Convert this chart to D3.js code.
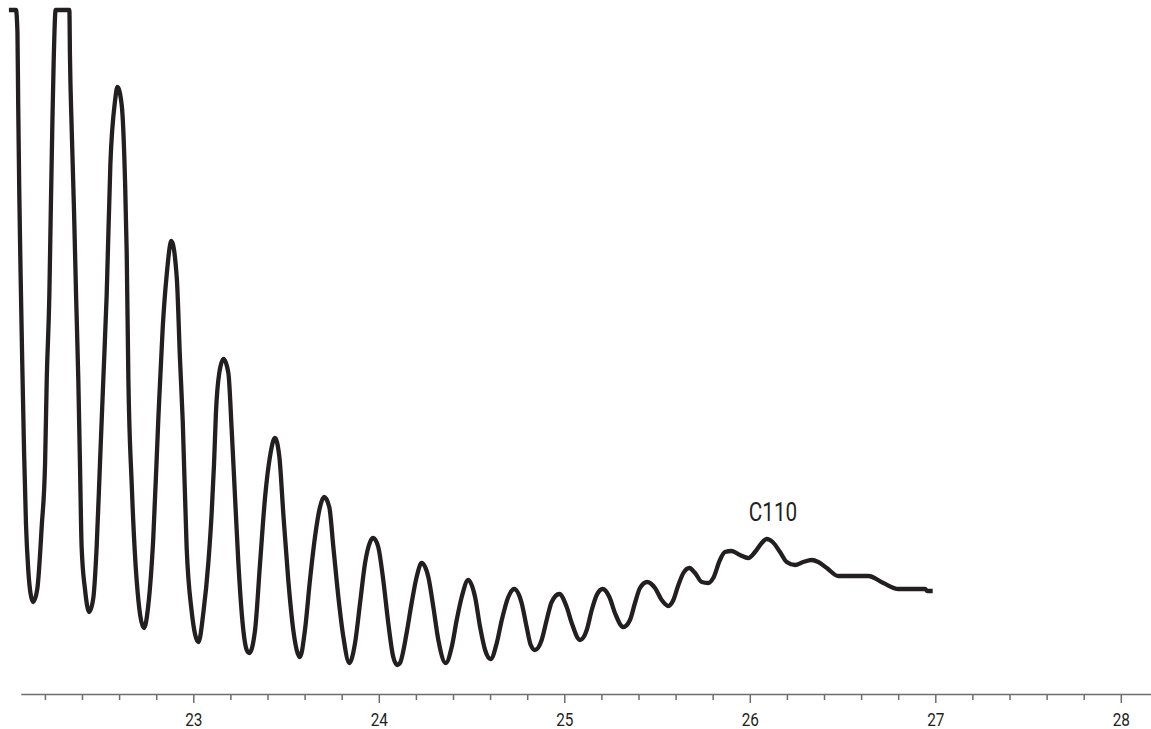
<!DOCTYPE html>
<html>
<head>
<meta charset="utf-8">
<script src="https://cdn.jsdelivr.net/npm/d3@7"></script>
<style>
  html, body { margin: 0; padding: 0; background: #ffffff; }
  svg { display: block; }
  .lbl { font-family: Roboto, "Liberation Sans", sans-serif; fill: #231f20; }
</style>
</head>
<body>
<svg id="chart" width="1151" height="729"></svg>
<script>
// Diffraction scan: 2θ (degrees) and detector intensity (a.u., saturated at 684)
const twoTheta = [
  22.006, 22.044, 22.052, 22.056, 22.062, 22.069, 22.078, 22.088, 22.098, 22.110,
  22.123, 22.137, 22.159, 22.183, 22.201, 22.210, 22.224, 22.231, 22.240, 22.247,
  22.258, 22.332, 22.335, 22.344, 22.357, 22.368, 22.380, 22.389, 22.398, 22.416,
  22.439, 22.461, 22.479, 22.497, 22.515, 22.533, 22.553, 22.578, 22.591, 22.614,
  22.632, 22.641, 22.650, 22.668, 22.695, 22.734, 22.757, 22.784, 22.811, 22.835,
  22.857, 22.882, 22.911, 22.928, 22.943, 22.964, 22.991, 23.028, 23.054, 23.081,
  23.099, 23.112, 23.122, 23.140, 23.163, 23.189, 23.207, 23.225, 23.243, 23.261,
  23.288, 23.302, 23.333, 23.360, 23.387, 23.413, 23.440, 23.464, 23.485, 23.512,
  23.539, 23.575, 23.602, 23.629, 23.656, 23.683, 23.705, 23.733, 23.755, 23.782,
  23.809, 23.841, 23.872, 23.899, 23.926, 23.953, 23.970, 23.997, 24.024, 24.051,
  24.078, 24.100, 24.114, 24.150, 24.177, 24.204, 24.231, 24.267, 24.294, 24.321,
  24.361, 24.393, 24.420, 24.447, 24.482, 24.519, 24.546, 24.573, 24.603, 24.636,
  24.663, 24.698, 24.730, 24.770, 24.797, 24.819, 24.842, 24.878, 24.905, 24.932,
  24.973, 25.013, 25.040, 25.085, 25.121, 25.148, 25.175, 25.207, 25.243, 25.273,
  25.318, 25.354, 25.381, 25.408, 25.447, 25.489, 25.525, 25.561, 25.588, 25.615,
  25.642, 25.674, 25.705, 25.741, 25.776, 25.803, 25.839, 25.866, 25.902, 25.947,
  25.992, 26.028, 26.064, 26.091, 26.123, 26.163, 26.199, 26.244, 26.288, 26.334,
  26.369, 26.415, 26.477, 26.639, 26.720, 26.801, 26.945, 26.957, 26.986
];
const intensity = [
  684, 684, 662, 590, 500, 420, 330, 240, 170, 125,
  100,  92, 105, 168, 231, 315, 399, 475, 568, 630,
  684, 684, 639, 568, 483, 399, 315, 231, 147, 105,
   82,  96, 147, 231, 315, 399, 530, 593, 607, 589,
  513, 441, 315, 210, 113,  66,  88, 155, 273, 366,
  420, 453, 416, 336, 273, 147,  83,  52,  81, 131,
  181, 231, 281, 321, 335, 321, 264, 197, 131,  81,
   44,  41,  64, 131, 197, 237, 256, 237, 181, 114,
   64,  37,  64, 114, 157, 187, 197, 187, 147,  97,
   57,  31,  51,  91, 131, 152, 156, 147, 114,  71,
   37,  29,  31,  61,  91, 117, 131, 117,  87,  54,
   31,  47,  74,  97, 114,  97,  67,  44,  35,  51,
   74,  97, 105,  91,  67,  49,  44,  54,  74,  92,
  100,  87,  71,  54,  64,  84,  99, 105,  97,  81,
   67,  74,  91, 106, 112, 106,  94,  88,  94, 109,
  121, 126, 121, 112, 111, 116, 134, 142, 143, 139,
  136, 142, 151, 155, 152, 142, 132, 129, 132, 134,
  132, 126, 118, 118, 111, 105, 105, 103, 103
];

// Axis ticks and labels
const majorTicks = [23, 24, 25, 26, 27, 28];
const majorTickLabels = ["23", "24", "25", "26", "27", "28"];
const minorTicks = [22.2, 22.4, 22.6, 22.8, 23.2, 23.4, 23.6, 23.8, 24.2, 24.4, 24.6, 24.8,
                    25.2, 25.4, 25.6, 25.8, 26.2, 26.4, 26.6, 26.8, 27.2, 27.4, 27.6, 27.8];
const axisStart = 22.07;
const axisEnd = 28.2;

// Peak annotation
const peakLabel = "C110";
const peakTheta = 26.125;
const peakIntensity = 155;

const svg = d3.select("#chart");

const x = d3.scaleLinear().domain([22, 28.2]).range([7.8, 1157.9]);
const y = d3.scaleLinear().domain([0, 684]).range([694, 10]);

const data = twoTheta.map((t, i) => ({ t, v: intensity[i] }));

// Scan trace
svg.append("path")
  .datum(data)
  .attr("fill", "none")
  .attr("stroke", "#231f20")
  .attr("stroke-width", 4.3)
  .attr("stroke-linejoin", "round")
  .attr("stroke-linecap", "butt")
  .attr("d", d3.line().x(d => x(d.t)).y(d => y(d.v)).curve(d3.curveMonotoneX));

// Bottom axis
const axisScale = x.copy().domain([axisStart, axisEnd]).range([x(axisStart), x(axisEnd)]);
const condensed = "scale(0.83,1)";

const major = svg.append("g")
  .attr("transform", `translate(0,${y(0)})`)
  .call(d3.axisBottom(axisScale)
    .tickValues(majorTicks)
    .tickSize(9)
    .tickSizeOuter(0)
    .tickFormat((d, i) => majorTickLabels[i]));

major.select(".domain").attr("stroke", "#6d6e71").attr("stroke-width", 1.5);
major.selectAll(".tick line").attr("stroke", "#6d6e71").attr("stroke-width", 1.5);
major.selectAll(".tick text")
  .attr("class", "lbl")
  .attr("dy", null)
  .attr("y", 32)
  .attr("transform", condensed)
  .style("font-size", "18.5px");

const minor = svg.append("g")
  .attr("transform", `translate(0,${y(0)})`)
  .call(d3.axisBottom(axisScale)
    .tickValues(minorTicks)
    .tickSize(6)
    .tickSizeOuter(0)
    .tickFormat(""));
minor.select(".domain").remove();
minor.selectAll(".tick line").attr("stroke", "#6d6e71").attr("stroke-width", 1.5);

// Peak label
svg.append("g")
  .attr("transform", `translate(${x(peakTheta)},${y(peakIntensity) - 18})`)
  .append("text")
  .attr("class", "lbl")
  .attr("transform", condensed)
  .attr("text-anchor", "middle")
  .style("font-size", "25px")
  .text(peakLabel);
</script>
</body>
</html>
